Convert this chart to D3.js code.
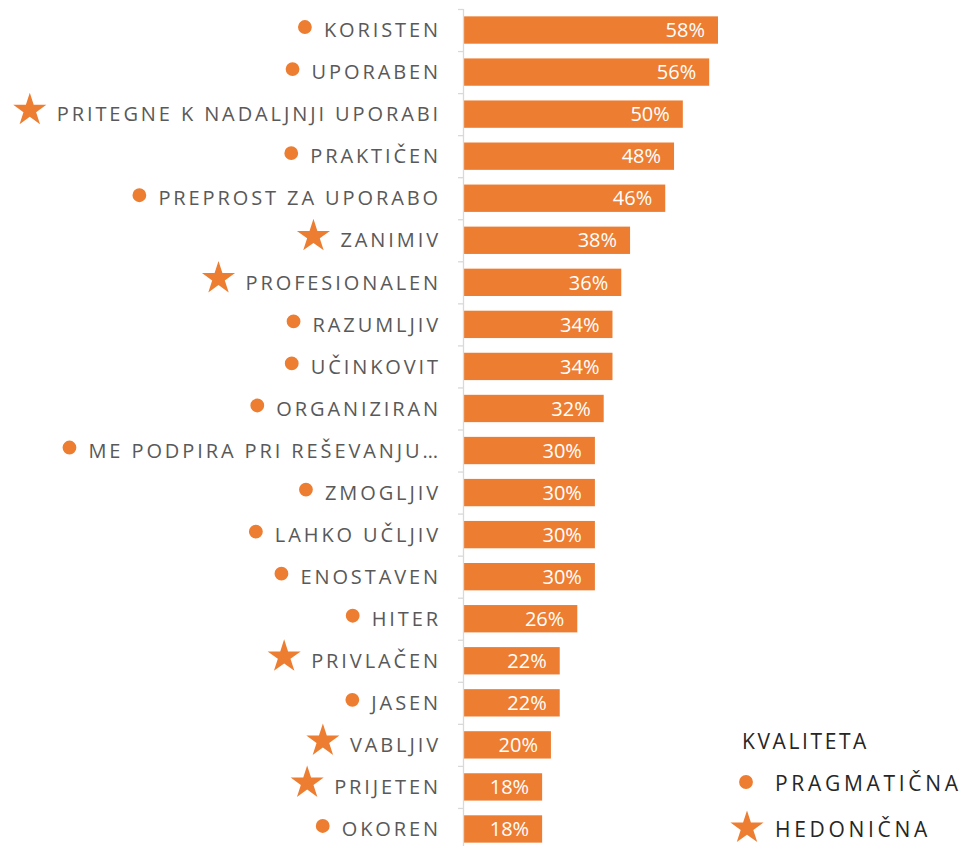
<!DOCTYPE html>
<html>
<head>
<meta charset="utf-8">
<script src="https://cdn.jsdelivr.net/npm/d3@7"></script>
<style>
  body { margin: 0; background: #fff; }
  text { font-family: 'Open Sans', sans-serif; }
</style>
</head>
<body>
<div id="chart"></div>
<script>
const labels = [
  'KORISTEN', 'UPORABEN', 'PRITEGNE K NADALJNJI UPORABI', 'PRAKTIČEN',
  'PREPROST ZA UPORABO', 'ZANIMIV', 'PROFESIONALEN', 'RAZUMLJIV',
  'UČINKOVIT', 'ORGANIZIRAN', 'ME PODPIRA PRI REŠEVANJU…', 'ZMOGLJIV',
  'LAHKO UČLJIV', 'ENOSTAVEN', 'HITER', 'PRIVLAČEN', 'JASEN',
  'VABLJIV', 'PRIJETEN', 'OKOREN'
]
const values = [58, 56, 50, 48, 46, 38, 36, 34, 34, 32, 30, 30, 30, 30, 26, 22, 22, 20, 18, 18]
// p = pragmatična (krog), h = hedonična (zvezda)
const kinds = ['p', 'p', 'h', 'p', 'p', 'h', 'h', 'p', 'p', 'p', 'p', 'p', 'p', 'p', 'p', 'h', 'p', 'h', 'h', 'p']
const legendItems = [
  { kind: 'p', name: 'PRAGMATIČNA' },
  { kind: 'h', name: 'HEDONIČNA' }
]

const orange = '#ED7D31'
const width = 963
const height = 846
const axisX = 463

const rows = labels.map((l, i) => ({ label: l, value: values[i], kind: kinds[i] }))

const svg = d3
  .select('#chart')
  .append('svg')
  .attr('width', width)
  .attr('height', height)

const x = d3.scaleLinear().domain([0, 58]).range([axisX, 718])

const y = d3
  .scaleBand()
  .domain(labels)
  .range([9, 9 + 42.05 * labels.length])
  .paddingInner(0.35)
  .paddingOuter(0.175)

const star = d3.symbol().type(d3.symbolStar)
const dot = d3.symbol().type(d3.symbolCircle)

// bars
svg
  .selectAll('.bar')
  .data(rows)
  .enter()
  .append('rect')
  .attr('class', 'bar')
  .attr('x', x(0))
  .attr('y', d => y(d.label))
  .attr('height', y.bandwidth())
  .attr('width', d => x(d.value) - x(0))
  .attr('fill', orange)

// axis line and ticks between categories
const step = y.step()
svg
  .append('line')
  .attr('x1', axisX + 0.5)
  .attr('x2', axisX + 0.5)
  .attr('y1', 9)
  .attr('y2', height)
  .attr('stroke', '#d9d9d9')
  .attr('stroke-width', 1.3)

svg
  .selectAll('.tick')
  .data(d3.range(labels.length + 1))
  .enter()
  .append('line')
  .attr('x1', axisX - 5)
  .attr('x2', axisX + 0.5)
  .attr('y1', i => 9 + i * step + 0.5)
  .attr('y2', i => 9 + i * step + 0.5)
  .attr('stroke', '#d9d9d9')
  .attr('stroke-width', 1.3)

// value labels
svg
  .selectAll('.val')
  .data(rows)
  .enter()
  .append('text')
  .attr('class', 'val')
  .attr('x', d => x(d.value) - 13)
  .attr('y', d => y(d.label) + y.bandwidth() / 2)
  .attr('dy', '0.36em')
  .attr('text-anchor', 'end')
  .attr('fill', '#fff')
  .attr('font-size', 20)
  .text(d => d.value + '%')

// category labels
const labelEnd = 441
const cats = svg
  .selectAll('.cat')
  .data(rows)
  .enter()
  .append('text')
  .attr('class', 'cat')
  .attr('x', labelEnd)
  .attr('y', d => y(d.label) + y.bandwidth() / 2)
  .attr('dy', '0.36em')
  .attr('text-anchor', 'end')
  .attr('fill', '#595959')
  .attr('font-size', 20)
  .attr('letter-spacing', 2.9)
  .text(d => d.label)

// icons left of each label
cats.each(function(d) {
  const w = this.getComputedTextLength()
  const start = labelEnd - w
  const cy = y(d.label) + y.bandwidth() / 2 - 3
  if (d.kind === 'p') {
    svg
      .append('path')
      .attr('d', dot.size(150)())
      .attr('transform', 'translate(' + (start - 19) + ',' + cy + ')')
      .attr('fill', orange)
  } else {
    svg
      .append('path')
      .attr('d', star.size(340)())
      .attr('transform', 'translate(' + (start - 27) + ',' + (cy - 1) + ')')
      .attr('fill', orange)
  }
})

// legend
const legend = svg.append('g').attr('transform', 'translate(742,0)')

legend
  .append('text')
  .attr('x', 0)
  .attr('y', 741)
  .attr('dy', '0.36em')
  .attr('fill', '#262626')
  .attr('font-size', 21)
  .attr('letter-spacing', 2.6)
  .text('KVALITETA')

legendItems.forEach((item, i) => {
  const cy = 783 + i * 46
  legend
    .append('path')
    .attr('d', item.kind === 'p' ? dot.size(150)() : star.size(340)())
    .attr('transform', 'translate(' + (item.kind === 'p' ? 4 : 5) + ',' + (cy - 1) + ')')
    .attr('fill', orange)
  legend
    .append('text')
    .attr('x', 33)
    .attr('y', cy)
    .attr('dy', '0.36em')
    .attr('fill', '#262626')
    .attr('font-size', 21)
    .attr('letter-spacing', 3.7)
    .text(item.name)
})
</script>
</body>
</html>
